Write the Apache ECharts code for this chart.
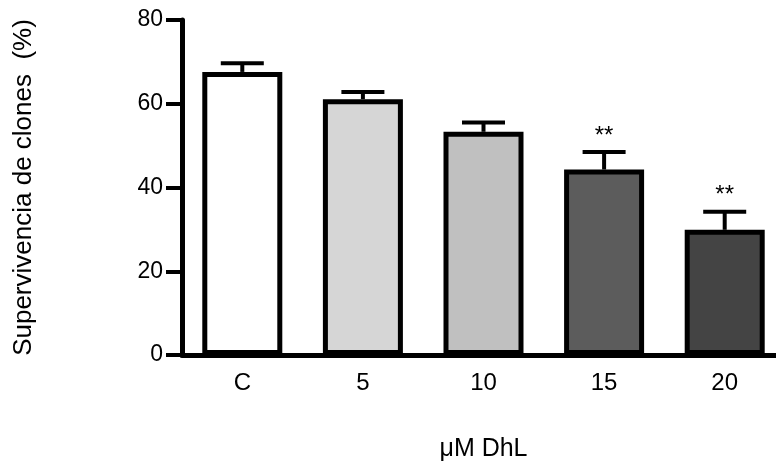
<!DOCTYPE html>
<html>
<head>
<meta charset="utf-8">
<script src="https://cdn.jsdelivr.net/npm/echarts@6/dist/echarts.min.js"></script>
<style>
  html, body { margin: 0; padding: 0; background: #fff; }
  #chart { width: 776px; height: 466px; }
</style>
</head>
<body>
<div id="chart"></div>
<script>
// datos
const categories = ['C', '5', '10', '15', '20']
const means = [67.6, 61.1, 53.3, 44.3, 29.9]
const errors = [2.1, 1.7, 2.2, 4.2, 4.3]
const signif = ['', '', '', '**', '**']
const barColors = ['#ffffff', '#d6d6d6', '#c0c0c0', '#5c5c5c', '#444444']
const yTicks = [0, 20, 40, 60, 80]

const font = "'Liberation Sans', Arial, sans-serif"

const chart = echarts.init(document.getElementById('chart'))

const option = {
  animation: false,
  backgroundColor: '#fff',
  grid: { left: 182, right: -9, top: 20, bottom: 111, outerBoundsMode: 'none', containLabel: false },
  xAxis: {
    type: 'category',
    data: categories,
    name: 'μM DhL',
    nameLocation: 'middle',
    nameGap: 82,
    nameTextStyle: { fontFamily: font, fontSize: 25, color: '#000' },
    axisLine: { lineStyle: { color: '#000', width: 5 } },
    axisTick: { alignWithLabel: true, length: 12, lineStyle: { color: '#000', width: 4 } },
    axisLabel: { fontFamily: font, fontSize: 24, color: '#000', margin: 16 }
  },
  yAxis: {
    type: 'value',
    min: yTicks[0],
    max: yTicks[yTicks.length - 1],
    interval: 20,
    name: 'Supervivencia de clones  (%)',
    nameLocation: 'middle',
    nameGap: 145,
    nameTextStyle: { fontFamily: font, fontSize: 26, color: '#000' },
    splitLine: { show: false },
    axisLine: { show: true, lineStyle: { color: '#000', width: 5 } },
    axisTick: { show: true, length: 16, lineStyle: { color: '#000', width: 4 } },
    axisLabel: { fontFamily: font, fontSize: 23, color: '#000', margin: 19 }
  },
  series: [
    {
      type: 'bar',
      barWidth: 80,
      data: means.map((v, i) => ({
        value: v,
        itemStyle: { color: barColors[i], borderColor: '#000', borderWidth: 5 }
      })),
      z: 2
    },
    {
      type: 'custom',
      z: 3,
      data: categories.map((c, i) => [i, means[i], errors[i]]),
      renderItem: (params, api) => {
        const i = params.dataIndex
        const base = api.coord([api.value(0), api.value(1)])
        const top = api.coord([api.value(0), api.value(1) + api.value(2)])
        const half = 21.5
        const style = { stroke: '#000', lineWidth: 4 }
        return {
          type: 'group',
          children: [
            { type: 'line', shape: { x1: top[0], y1: base[1], x2: top[0], y2: top[1] }, style },
            { type: 'line', shape: { x1: top[0] - half, y1: top[1], x2: top[0] + half, y2: top[1] }, style },
            {
              type: 'text',
              style: {
                text: signif[i],
                x: top[0],
                y: top[1] - 4,
                align: 'center',
                verticalAlign: 'bottom',
                fontFamily: font,
                fontSize: 24,
                fill: '#000'
              }
            }
          ]
        }
      }
    }
  ]
}

chart.setOption(option)
</script>
</body>
</html>
